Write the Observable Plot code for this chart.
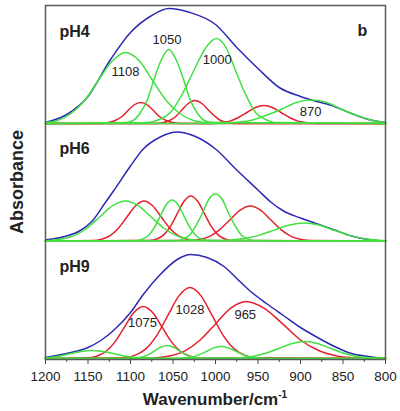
<!DOCTYPE html>
<html><head><meta charset="utf-8">
<script src="https://cdn.jsdelivr.net/npm/d3@7"></script>
<script src="https://cdn.jsdelivr.net/npm/@observablehq/plot@0.6"></script>
<style>html,body{margin:0;padding:0;background:#fff}#chart svg{display:block}</style>
</head><body><div id="chart"></div><script>
// ---------- data (wavenumber cm-1, absorbance a.u.) ----------
const panels = ["pH4", "pH6", "pH9"];
const xMajorTicks = [1200,1150,1100,1050,1000,950,900,850,800];
const xMinorTicks = [1175,1125,1075,1025,975,925,875,825];

// pH4
const pH4_envelope = [[1200,.01],[1175,.09],[1150,.27],[1125,.62],[1100,.91],[1075,1.08],[1055,1.15],[1030,1.11],[1000,.99],[975,.76],[950,.55],[925,.36],[900,.27],[885,.23],[860,.17],[840,.10],[820,.04],[800,.01]];
const pH4_green = [
  [[1200,.01],[1186,.03],[1170,.10],[1154,.23],[1138,.43],[1122,.62],[1106,.71],[1090,.63],[1074,.43],[1058,.23],[1042,.10],[1026,.03],[1010,.01],[800,0]],
  [[1200,0],[1106,.01],[1097,.03],[1089,.10],[1080,.24],[1072,.45],[1063,.65],[1055,.74],[1047,.65],[1038,.45],[1030,.24],[1021,.10],[1013,.03],[1004,.01],[800,0]],
  [[1200,0],[1080,.01],[1066,.04],[1053,.11],[1040,.28],[1026,.52],[1012,.75],[999,.85],[987,.75],[976,.52],[964,.28],[953,.11],[941,.04],[930,.01],[800,0]],
  [[1200,0],[995,0],[977,.01],[959,.03],[941,.08],[923,.14],[905,.21],[887,.235],[869,.21],[851,.14],[833,.08],[815,.03],[800,.01]]
];
const pH4_red = [
  [[1200,0],[1133,0],[1126,.01],[1118,.03],[1110,.07],[1103,.13],[1096,.185],[1088,.21],[1080,.185],[1073,.13],[1066,.07],[1058,.03],[1050,.01],[1043,0],[800,0]],
  [[1200,0],[1069,0],[1061,.01],[1054,.03],[1046,.075],[1039,.14],[1032,.20],[1024,.23],[1016,.20],[1009,.14],[1001,.075],[994,.03],[986,.01],[979,0],[800,0]],
  [[1200,0],[1003,0],[993,.01],[983,.024],[973,.06],[963,.11],[953,.16],[943,.18],[933,.16],[923,.11],[913,.06],[903,.024],[893,.01],[883,0],[800,0]]
];
const pH4_peakText = ["1108","1050","1000","870"];
const pH4_peakWn = [1106,1057,998,888];
const pH4_peakA = [.52,.84,.64,.113];

// pH6
const pH6_envelope = [[1200,.01],[1175,.05],[1160,.10],[1145,.20],[1130,.38],[1120,.50],[1100,.75],[1085,.92],[1065,1.04],[1045,1.09],[1025,1.05],[1000,.92],[975,.71],[950,.51],[935,.39],[920,.30],[900,.23],[880,.17],[860,.11],[840,.05],[820,.015],[800,0]];
const pH6_green = [
  [[1200,0],[1196,.004],[1181,.02],[1166,.054],[1151,.13],[1136,.243],[1121,.353],[1106,.40],[1091,.353],[1076,.243],[1061,.13],[1046,.054],[1031,.018],[1016,.004],[800,0]],
  [[1200,0],[1093,.005],[1086,.018],[1079,.055],[1072,.133],[1065,.249],[1058,.362],[1051,.41],[1044,.362],[1037,.249],[1030,.133],[1023,.055],[1016,.018],[1009,.005],[800,0]],
  [[1200,0],[1045,.005],[1038,.021],[1030,.063],[1023,.153],[1015,.285],[1008,.415],[1000,.47],[992,.415],[985,.285],[977,.153],[970,.063],[962,.021],[955,.005],[800,0]],
  [[1200,0],[1001,.002],[983,.008],[966,.024],[948,.059],[931,.109],[913,.159],[896,.18],[878,.159],[861,.109],[843,.059],[826,.024],[808,.008],[800,.004]]
];
const pH6_red = [
  [[1200,0],[1144,.004],[1134,.018],[1124,.054],[1114,.13],[1104,.243],[1094,.353],[1084,.40],[1074,.353],[1064,.243],[1054,.13],[1044,.054],[1034,.018],[1024,.004],[800,0]],
  [[1200,0],[1077,.005],[1069,.02],[1061,.061],[1053,.146],[1045,.273],[1037,.397],[1029,.45],[1021,.397],[1013,.273],[1005,.146],[997,.061],[989,.02],[981,.005],[800,0]],
  [[1200,0],[1031,.004],[1019,.015],[1007,.047],[995,.114],[983,.212],[971,.309],[959,.35],[947,.309],[935,.212],[923,.114],[911,.047],[899,.015],[887,.004],[800,0]]
];
const pH6_peakText = [];
const pH6_peakWn = [];
const pH6_peakA = [];

// pH9
const pH9_envelope = [[1200,.01],[1175,.05],[1150,.11],[1135,.18],[1120,.28],[1100,.46],[1085,.64],[1065,.84],[1045,.99],[1029,1.04],[1010,1.01],[990,.92],[975,.80],[960,.68],[940,.55],[920,.43],[900,.31],[880,.21],[860,.12],[840,.05],[820,.02],[800,0]];
const pH9_green = [
  [[1200,.008],[1195,.011],[1183,.026],[1170,.049],[1158,.071],[1145,.08],[1133,.071],[1120,.049],[1108,.026],[1095,.011],[1083,.004],[1070,.001],[800,0]],
  [[1200,0],[1099,.001],[1092,.006],[1085,.018],[1078,.042],[1071,.079],[1064,.115],[1057,.13],[1050,.115],[1043,.079],[1036,.042],[1029,.018],[1022,.006],[1015,.001],[800,0]],
  [[1200,0],[1044,.001],[1036,.005],[1027,.016],[1019,.039],[1010,.073],[1002,.106],[993,.12],[985,.106],[976,.073],[968,.039],[959,.016],[951,.005],[942,.001],[800,0]],
  [[1200,0],[985,.002],[970,.0075],[955,.023],[940,.055],[925,.103],[910,.15],[895,.17],[880,.15],[865,.103],[850,.055],[835,.023],[820,.0075],[805,.002],[800,.001]]
];
const pH9_red = [
  [[1200,0],[1151,.006],[1140,.023],[1129,.07],[1118,.169],[1107,.316],[1096,.459],[1085,.52],[1074,.459],[1063,.316],[1052,.169],[1041,.07],[1030,.023],[1019,.006],[800,0]],
  [[1200,0],[1108,.008],[1095,.031],[1082,.096],[1069,.231],[1056,.431],[1043,.626],[1030,.71],[1017,.626],[1004,.431],[991,.231],[978,.096],[965,.031],[952,.008],[800,0]],
  [[1200,0],[1072,.006],[1054,.025],[1036,.077],[1018,.185],[1000,.346],[982,.503],[964,.57],[943,.503],[921,.346],[900,.185],[878,.077],[857,.025],[835,.006],[800,0]]
];
const pH9_peakText = ["1075","1028","965"];
const pH9_peakWn = [1086,1030,965];
const pH9_peakA = [.355,.49,.44];

// ---------- build tables ----------
const sets = {
  pH4: {envelope: [pH4_envelope], green: pH4_green, red: pH4_red, text: pH4_peakText, wn: pH4_peakWn, a: pH4_peakA},
  pH6: {envelope: [pH6_envelope], green: pH6_green, red: pH6_red, text: pH6_peakText, wn: pH6_peakWn, a: pH6_peakA},
  pH9: {envelope: [pH9_envelope], green: pH9_green, red: pH9_red, text: pH9_peakText, wn: pH9_peakWn, a: pH9_peakA}
};
const rows = [];
const peakLabels = [];
for (const p of panels) {
  for (const kind of ["envelope","green","red"]) {
    sets[p][kind].forEach((pts, i) => pts.forEach(([wn, a]) => rows.push({panel: p, kind, id: `${p}-${kind}-${i}`, wn, a})));
  }
  sets[p].text.forEach((t, i) => peakLabels.push({panel: p, text: t, wn: sets[p].wn[i], a: sets[p].a[i]}));
}
const panelStep = 1.175;
const lift = p => (panels.length - 1 - panels.indexOf(p)) * panelStep;
const colors = {envelope: "#2a2ab4", green: "#40e040", red: "#e3202c"};
const font = "'Liberation Sans', Arial, sans-serif";
const plainNumber = d => String(d);

const lineOf = kind => Plot.line(rows.filter(d => d.kind === kind), {
  x: "wn", y: d => d.a + lift(d.panel), z: "id",
  stroke: colors[kind], strokeWidth: 1.5, curve: "monotone-x"
});

const hasAxisMarks = typeof Plot.axisX === "function";
const axisMarks = hasAxisMarks ? [
  Plot.axisX(xMinorTicks, {tickSize: 3, tickFormat: () => "", stroke: "#444"}),
  Plot.axisX(xMajorTicks, {tickSize: 5, tickPadding: 7, tickFormat: plainNumber, fontSize: 13.5, fill: "#222", stroke: "#444"})
] : [];

const chart = Plot.plot({
  width: 400, height: 411,
  marginLeft: 45, marginRight: 15, marginTop: 5, marginBottom: 52,
  style: {fontFamily: font, fontSize: "13.5px", color: "#222", background: "#fff"},
  x: hasAxisMarks
    ? {domain: [1200, 800], label: null}
    : {domain: [1200, 800], ticks: xMajorTicks, tickFormat: plainNumber, tickSize: 5, tickPadding: 7, label: null},
  y: {domain: [-0.01, 3.53], axis: null},
  marks: [
    ...axisMarks,
    lineOf("envelope"),
    lineOf("red"),
    lineOf("green"),
    Plot.text(peakLabels, {x: "wn", y: d => d.a + lift(d.panel), text: "text", fontSize: 13, fill: "#222"}),
    Plot.text(panels, {x: 1183.5, y: p => lift(p) + 0.87, text: p => p, textAnchor: "start", lineAnchor: "bottom", fontSize: 16, fontWeight: "bold", fill: "#222"}),
    Plot.text(["b"], {x: 821.5, y: lift("pH4") + 0.88, text: d => d, textAnchor: "end", lineAnchor: "bottom", fontSize: 16, fontWeight: "bold", fill: "#222"}),
    Plot.frame({stroke: "#5a5a5a", strokeWidth: 1.5})
  ]
});

const svg = d3.select(chart);
const xt = svg.append("text")
  .attr("x", 215).attr("y", 405)
  .attr("text-anchor", "middle")
  .attr("font-family", font).attr("font-weight", "bold").attr("font-size", 17).attr("fill", "#222");
xt.append("tspan").text("Wavenumber/cm");
xt.append("tspan").attr("dy", -7).attr("font-size", 10).text("-1");

svg.append("text")
  .attr("transform", "translate(23,182) rotate(-90)")
  .attr("text-anchor", "middle")
  .attr("font-family", font).attr("font-weight", "bold").attr("font-size", 18).attr("fill", "#222")
  .text("Absorbance");

document.getElementById("chart").appendChild(chart);
</script></body></html>
